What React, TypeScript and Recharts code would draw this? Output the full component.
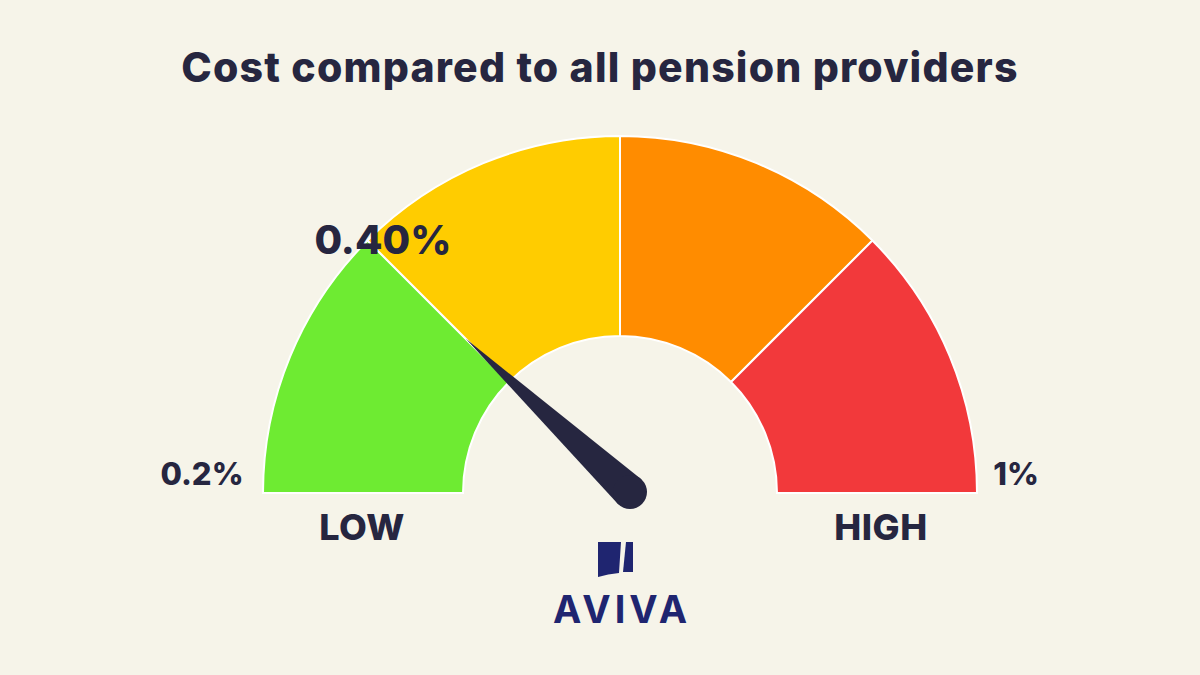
import { Cell, Pie, PieChart } from "recharts";

// gauge scale: band edges in %
const bandEdges = [0.2, 0.4, 0.6, 0.8, 1.0];
const bandNames = ["Lowest", "Low", "High", "Highest"];
const bandColors = ["#6EEB32", "#FFCC00", "#FF8C00", "#F2393B"];
const needleValue = 0.4;
const needleLabel = "0.40%";
const minLabel = "0.2%";
const maxLabel = "1%";

const bands = bandNames.map((name, i) => ({
  name,
  value: bandEdges[i + 1] - bandEdges[i],
}));

const scaleMin = bandEdges[0];
const scaleMax = bandEdges[bandEdges.length - 1];
// split of the half circle at the needle value
const needleData = [
  { name: "value", value: needleValue - scaleMin },
  { name: "rest", value: scaleMax - needleValue },
];

const BG = "#F6F4E9";
const INK = "#262640";
const NAVY = "#1F2570";
const FONT = "Inter, 'Noto Sans', sans-serif";

const CX = 620;
const CY = 493;
const INNER = 157;
const OUTER = 357;

const RADIAN = Math.PI / 180;

const renderNeedle = (props: any) => {
  if (props.index !== 0) return null;
  const { cx, cy, endAngle } = props;
  const bx = cx + 10;
  const by = cy - 1;
  const tx = cx + 218 * Math.cos(endAngle * RADIAN);
  const ty = cy - 218 * Math.sin(endAngle * RADIAN);
  const len = Math.hypot(tx - bx, ty - by);
  const px = -(ty - by) / len;
  const py = (tx - bx) / len;
  const w = 17;
  return (
    <g key="needle">
      <path
        d={`M${tx},${ty} L${bx + px * w},${by + py * w} L${bx - px * w},${by - py * w} Z`}
        fill={INK}
      />
      <circle cx={bx} cy={by} r={w} fill={INK} />
      <text
        x={tx - 83}
        y={ty - 85}
        textAnchor="middle"
        fontSize={40}
        fontWeight={800}
        fill={INK}
        fontFamily={FONT}
      >
        {needleLabel}
      </text>
    </g>
  );
};

const txt = { fill: INK, fontFamily: FONT, fontWeight: 800 };

const App = () => {
  return (
    <div
      style={{
        position: "absolute",
        left: 0,
        top: 0,
        width: 1200,
        height: 675,
        background: BG,
        fontFamily: FONT,
      }}
    >
      <PieChart width={1200} height={675} margin={{ top: 0, right: 0, bottom: 0, left: 0 }}>
        <Pie
          data={bands}
          dataKey="value"
          cx={CX}
          cy={CY}
          startAngle={180}
          endAngle={0}
          innerRadius={INNER}
          outerRadius={OUTER}
          stroke="#FFFFFF"
          strokeWidth={2}
          isAnimationActive={false}
        >
          {bands.map((b, i) => (
            <Cell key={b.name} fill={bandColors[i]} />
          ))}
        </Pie>
        <Pie
          data={needleData}
          dataKey="value"
          cx={CX}
          cy={CY}
          startAngle={180}
          endAngle={0}
          innerRadius={0}
          outerRadius={1}
          fill="none"
          stroke="none"
          label={renderNeedle}
          labelLine={false}
          isAnimationActive={false}
        />
      </PieChart>
      <svg
        width={1200}
        height={675}
        style={{ position: "absolute", left: 0, top: 0, pointerEvents: "none" }}
      >
        <text x={600} y={82} textAnchor="middle" fontSize={41} letterSpacing={1.2} {...txt}>
          Cost compared to all pension providers
        </text>
        <text x={202} y={485} textAnchor="middle" fontSize={31} {...txt}>
          {minLabel}
        </text>
        <text x={1016} y={485} textAnchor="middle" fontSize={31} {...txt}>
          {maxLabel}
        </text>
        <text x={362} y={540} textAnchor="middle" fontSize={36} letterSpacing={0.5} {...txt}>
          LOW
        </text>
        <text x={881} y={540} textAnchor="middle" fontSize={36} letterSpacing={0.5} {...txt}>
          HIGH
        </text>
        {/* Aviva logo */}
        <g fill={NAVY}>
          <path d="M598,542 L621,542 L619,573 Q608,574 598,577 Z" />
          <path d="M626,542 L633,542 L633,572 L623,572 Z" />
        </g>
        <text
          x={622}
          y={623}
          textAnchor="middle"
          fontSize={38}
          fontWeight={700}
          fill={NAVY}
          fontFamily={FONT}
          letterSpacing={4}
        >
          AVIVA
        </text>
      </svg>
    </div>
  );
};

export default App;
